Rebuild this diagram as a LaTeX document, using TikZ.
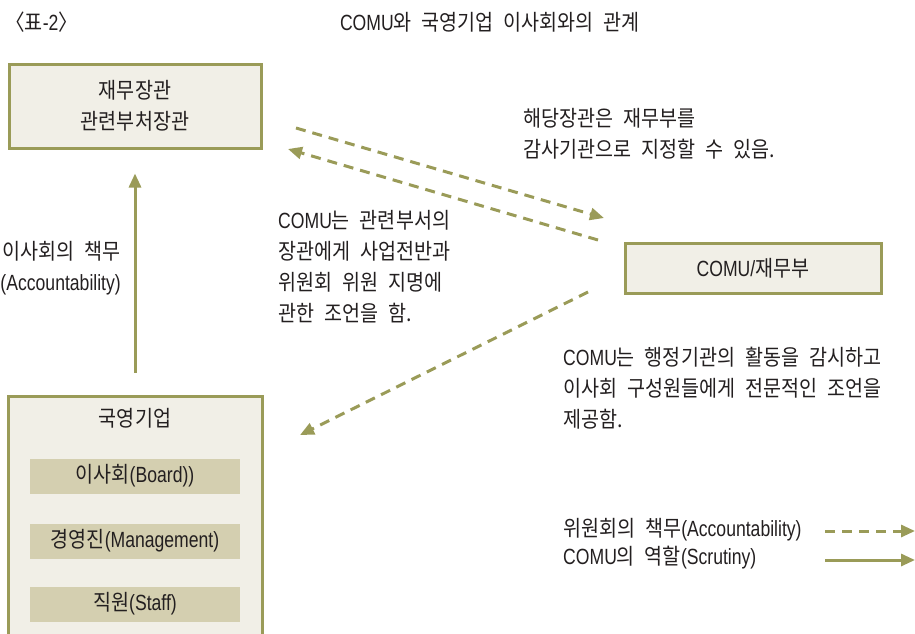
\documentclass[tikz,border=0pt]{standalone}
\usepackage{fontspec}
\setmainfont{Noto Sans CJK KR}[FakeStretch=0.89]
\newfontfamily\enf{Liberation Sans}[FakeStretch=0.8]
\usepackage{tikz}
\usetikzlibrary{arrows.meta}

\definecolor{olive}{RGB}{154,155,88}
\definecolor{boxfill}{RGB}{241,239,231}
\definecolor{barfill}{RGB}{212,207,176}
\definecolor{ink}{RGB}{35,31,32}
\newcommand\notefont{\fontsize{22}{31}\selectfont\spaceskip=10pt plus 2pt\relax}

\begin{document}
\begin{tikzpicture}[x=1pt,y=-1pt,
  every node/.style={text=ink,font=\notefont,inner sep=0pt},
  outerbox/.style={draw=olive,line width=3pt,fill=boxfill,align=center},
  bar/.style={fill=barfill,minimum width=210pt,minimum height=35pt},
  role/.style={olive,line width=3pt,-{Triangle[length=14pt,width=12pt]}},
  duty/.style={role,dash pattern=on 10pt off 7pt}]
  \useasboundingbox (0,0) rectangle (915,633);
  \clip (0,0) rectangle (915,633);
  % header
  \node (tabno) [anchor=west] at (5,22) {〈표{\enf -2}〉};
  \node (title) at (490,22) {{\enf COMU}와 국영기업 이사회와의 관계};
  % boxes
  \node (minister) [outerbox,minimum width=252pt,minimum height=84pt] at (135,106)
    {재무장관\\관련부처장관};
  \node (comu) [outerbox,minimum width=256pt,minimum height=50pt] at (753,268.5)
    {{\enf COMU/}재무부};
  \node (soe) [outerbox,minimum width=254pt,minimum height=260pt,anchor=north] at (135,394.5) {};
  \node (soetitle) at (135,418) {국영기업};
  \node (board) [bar] at (135,476) {이사회{\enf (Board))}};
  \node (mgmt) [bar] at (135,541) {경영진{\enf (Management)}};
  \node (staff) [bar] at (135,604) {직원{\enf (Staff)}};
  % notes
  \node (dutylabel) [anchor=east,align=right] at (121,268) {이사회의 책무\\{\enf (Accountability)}};
  \node (auditnote) [anchor=west,align=left] at (523,134) {해당장관은 재무부를\\감사기관으로 지정할 수 있음.};
  \node (advicenote) [anchor=west,align=left] at (278,267) {{\enf COMU}는 관련부서의\\장관에게 사업전반과\\위원회 위원 지명에\\관한 조언을 함.};
  \node (scrutnote) [anchor=west,align=left] at (563,388) {{\enf COMU}는 행정기관의 활동을 감시하고\\이사회 구성원들에게 전문적인 조언을\\제공함.};
  % connectors
  \draw[role] ([yshift=22pt]soe.north) -- ([yshift=-24pt]minister.south);
  \coordinate (d1s) at (296,128);
  \coordinate (d1e) at (604,218);
  \coordinate (d2s) at (598,240);
  \coordinate (d2e) at (288,149);
  \coordinate (d3s) at (588,292);
  \coordinate (d3e) at (300,435);
  \draw[duty] (d1s) -- (d1e);
  \draw[duty] (d2s) -- (d2e);
  \draw[duty] (d3s) -- (d3e);
  % legend
  \node (legduty) [anchor=west] at (563,530) {위원회의 책무{\enf (Accountability)}};
  \node (legrole) [anchor=west] at (563,558) {{\enf COMU}의 역할{\enf (Scrutiny)}};
  \coordinate (ld1) at (825,531);
  \coordinate (ld2) at (915,531);
  \coordinate (lr1) at (825,560);
  \coordinate (lr2) at (915,560);
  \draw[duty] (ld1) -- (ld2);
  \draw[role] (lr1) -- (lr2);
\end{tikzpicture}
\end{document}
